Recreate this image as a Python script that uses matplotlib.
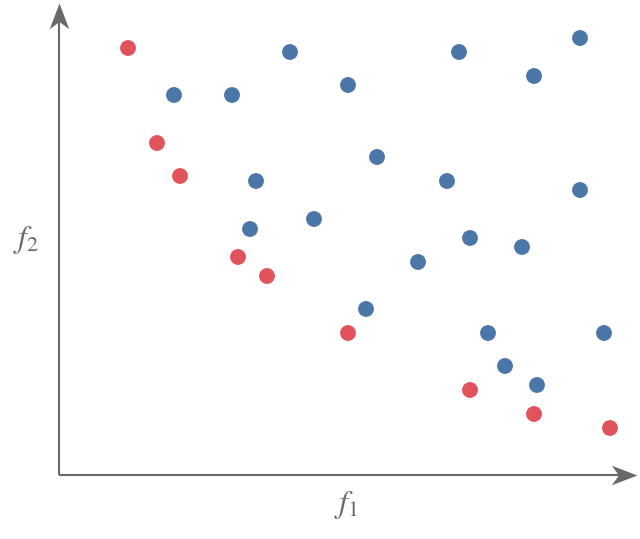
import matplotlib
matplotlib.use("Agg")
import matplotlib.pyplot as plt
from matplotlib.path import Path

# objective values (arbitrary units)
red_f1 = [69, 98, 121, 179, 208, 289, 411, 475, 551]
red_f2 = [427, 332, 299, 218, 199, 142, 85, 61, 47]

blue_f1 = [115, 173, 231, 289, 318, 197, 191, 255, 400, 475, 521,
           388, 521, 411, 463, 359, 307, 429, 545, 446, 478]
blue_f2 = [380, 380, 423, 390, 318, 294, 246, 256, 423, 399, 437,
           294, 285, 237, 228, 213, 166, 142, 142, 109, 90]

RED = "#e0535a"
BLUE = "#4a76a8"
AXIS = "#6d6868"

plt.rcParams['mathtext.fontset'] = 'stix'

fig = plt.figure(figsize=(6.4, 5.39), dpi=100)
ax = fig.add_axes([0, 0, 1, 1])
ax.set_xlim(-59, 581)
ax.set_ylim(-64, 475)
ax.axis('off')

# concave arrow heads, tip at the marker origin
codes = [Path.MOVETO, Path.LINETO, Path.LINETO, Path.LINETO, Path.CLOSEPOLY]
head_up = Path([(0, 0), (-0.38, -1), (0, -0.72), (0.38, -1), (0, 0)], codes)
head_right = Path([(0, 0), (-1, 0.38), (-0.72, 0), (-1, -0.38), (0, 0)], codes)

ax.plot([0, 0], [0, 455], color=AXIS, lw=1.5, solid_capstyle='butt')
ax.plot([0, 560], [0, 0], color=AXIS, lw=1.5, solid_capstyle='butt')
ax.plot([0], [472], marker=head_up, ms=37, color=AXIS, mew=0)
ax.plot([578], [0], marker=head_right, ms=37, color=AXIS, mew=0)

ax.scatter(blue_f1, blue_f2, s=130, color=BLUE, edgecolors='none', zorder=3)
ax.scatter(red_f1, red_f2, s=130, color=RED, edgecolors='none', zorder=3)

ax.text(287, -30, r'$f_1$', fontsize=23, color=AXIS, ha='center', va='center')
ax.text(-33, 235, r'$f_2$', fontsize=23, color=AXIS, ha='center', va='center')

fig.savefig("out.png", dpi=100)
